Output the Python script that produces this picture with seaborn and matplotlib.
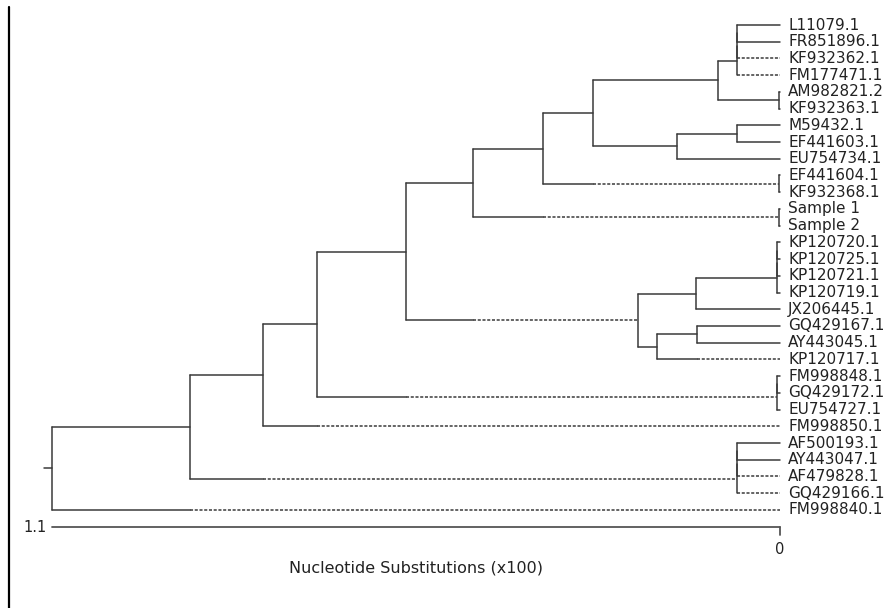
import numpy as np
import pandas as pd
import matplotlib
matplotlib.use("Agg")
import matplotlib.pyplot as plt
from matplotlib.lines import Line2D
import seaborn as sns

sns.set_style("white")
plt.rcParams["font.family"] = ["DejaVu Sans"]

# ── 데이터 ────────────────────────────────────────────────
LEAVES = ["L11079.1", "FR851896.1", "KF932362.1", "FM177471.1", "AM982821.2",
          "KF932363.1", "M59432.1", "EF441603.1", "EU754734.1", "EF441604.1",
          "KF932368.1", "Sample 1", "Sample 2", "KP120720.1", "KP120725.1",
          "KP120721.1", "KP120719.1", "JX206445.1", "GQ429167.1", "AY443045.1",
          "KP120717.1", "FM998848.1", "GQ429172.1", "EU754727.1", "FM998850.1",
          "AF500193.1", "AY443047.1", "AF479828.1", "GQ429166.1", "FM998840.1"]

# internal nodes (children, height in substitutions x100, tips = 0)
NODE_NAMES = ["O1", "O2", "O", "P", "M", "Q", "N", "K", "L", "I", "J", "G",
              "T1", "T2", "T", "R", "U", "S", "H", "E", "F1", "F", "D", "B",
              "C1", "C2", "C", "A", "root"]
NODE_CHILDREN = [
    ["L11079.1", "FR851896.1"], ["O1", "KF932362.1"], ["O2", "FM177471.1"],
    ["AM982821.2", "KF932363.1"], ["O", "P"],
    ["M59432.1", "EF441603.1"], ["Q", "EU754734.1"], ["M", "N"],
    ["EF441604.1", "KF932368.1"], ["K", "L"],
    ["Sample 1", "Sample 2"], ["I", "J"],
    ["KP120720.1", "KP120725.1"], ["T1", "KP120721.1"], ["T2", "KP120719.1"],
    ["T", "JX206445.1"], ["GQ429167.1", "AY443045.1"], ["U", "KP120717.1"],
    ["R", "S"], ["G", "H"],
    ["FM998848.1", "GQ429172.1"], ["F1", "EU754727.1"], ["E", "F"],
    ["D", "FM998850.1"],
    ["AF500193.1", "AY443047.1"], ["C1", "AF479828.1"], ["C2", "GQ429166.1"],
    ["B", "C"], ["A", "FM998840.1"],
]
NODE_HEIGHT = [0.065, 0.065, 0.065, 0.001, 0.094,
               0.065, 0.156, 0.283, 0.001, 0.358,
               0.001, 0.464,
               0.004, 0.004, 0.004, 0.127, 0.125, 0.186, 0.215, 0.565,
               0.004, 0.004, 0.700, 0.781,
               0.065, 0.065, 0.065, 0.892, 1.100]
# branches drawn dashed past the sibling's depth
DASHED = ["KF932362.1", "FM177471.1", "L", "J", "KP120717.1", "H", "F",
          "FM998850.1", "AF479828.1", "GQ429166.1", "C", "FM998840.1"]

SCALE_MAX = 1.1
XLABEL = "Nucleotide Substitutions (x100)"

# ── 레이아웃 ──────────────────────────────────────────────
W_PX, H_PX = 890, 608
ROOT_PX, TIP_PX = 52, 780
TOP_PX, ROW_PX = 25, 16.72
ppu = (TIP_PX - ROOT_PX) / SCALE_MAX

children = dict(zip(NODE_NAMES, NODE_CHILDREN))
height = dict(zip(NODE_NAMES, NODE_HEIGHT))
height.update({n: 0.0 for n in LEAVES})
leaf_row = {n: i for i, n in enumerate(LEAVES)}


def y_of(n):
    if n in leaf_row:
        return leaf_row[n]
    return np.mean([y_of(c) for c in children[n]])


rows = []


def seg(x0, y0, x1, y1, style):
    k = len(rows) // 2
    rows.append({"seg": k, "x": x0, "y": y0, "style": style})
    rows.append({"seg": k, "x": x1, "y": y1, "style": style})


for node in NODE_NAMES:
    h = height[node]
    kids = children[node]
    ys = [y_of(c) for c in kids]
    seg(h, min(ys), h, max(ys), "solid")
    for c, yc in zip(kids, ys):
        hc = height[c]
        sib = [s for s in kids if s != c][0]
        if c in DASHED:
            hs = max(min(height[sib], h), hc)
            seg(h, yc, hs, yc, "solid")
            seg(hs, yc, hc, yc, "dashed")
        else:
            seg(h, yc, hc, yc, "solid")

# root stub
seg(SCALE_MAX + 8 / ppu, y_of("root"), SCALE_MAX, y_of("root"), "solid")
df = pd.DataFrame(rows)

# ── 그림 ──────────────────────────────────────────────────
fig = plt.figure(figsize=(W_PX / 100, H_PX / 100), dpi=100)
ax = fig.add_axes([0, 0, 1, 1])

sns.lineplot(data=df, x="x", y="y", units="seg", estimator=None, sort=False,
             style="style", dashes={"solid": "", "dashed": (2.0, 1.1)},
             color="#3a3a3a", linewidth=1.1, legend=False, ax=ax)

ax.set_xlim(SCALE_MAX + ROOT_PX / ppu, SCALE_MAX - (W_PX - ROOT_PX) / ppu)
ax.set_ylim((H_PX - TOP_PX) / ROW_PX, -TOP_PX / ROW_PX)
ax.axis("off")

for name in LEAVES:
    ax.text(-8 / ppu, leaf_row[name], name, ha="left", va="center",
            fontsize=11, color="#222222")

# scale bar
bar_y = (527 - TOP_PX) / ROW_PX
ax.plot([SCALE_MAX, 0], [bar_y, bar_y], color="#555555", lw=1.3)
ax.plot([0, 0], [bar_y, bar_y + 0.45], color="#555555", lw=1.3)
ax.text(SCALE_MAX + 5 / ppu, bar_y, f"{SCALE_MAX:g}", ha="right", va="center",
        fontsize=10.5, color="#222222")
ax.text(0, (550 - TOP_PX) / ROW_PX, "0", ha="center", va="center",
        fontsize=10.5, color="#222222")
ax.text(SCALE_MAX / 2, (568 - TOP_PX) / ROW_PX, XLABEL, ha="center",
        va="center", fontsize=11.5, color="#222222")

# left frame line
fig.add_artist(Line2D([9 / W_PX, 9 / W_PX], [0, 1 - 7 / H_PX],
                      color="black", lw=1.6))

fig.savefig("out.png", dpi=100)
